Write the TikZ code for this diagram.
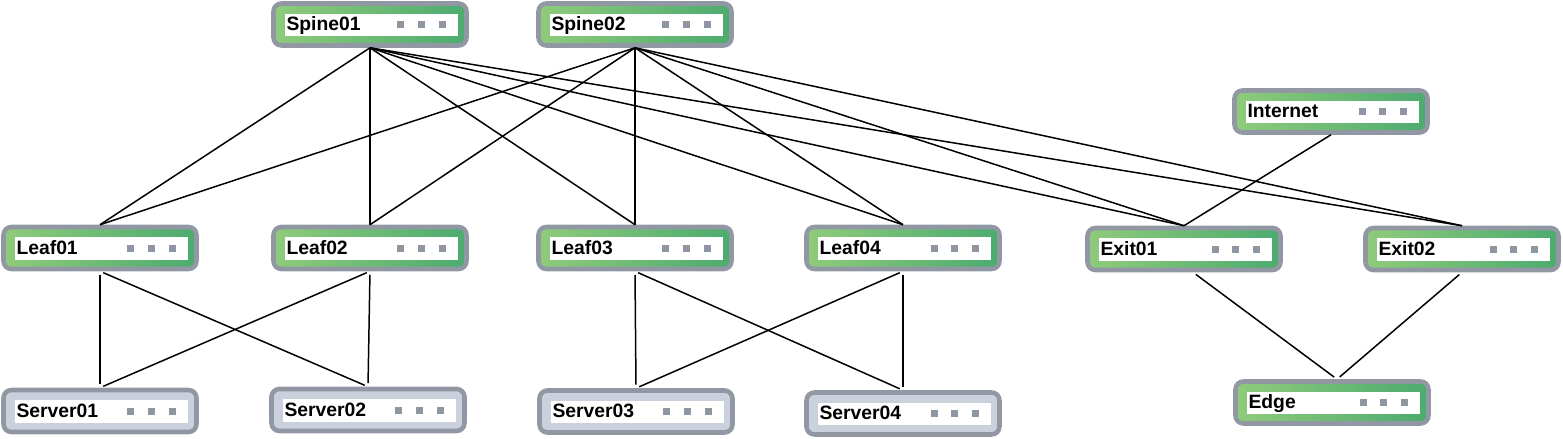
\documentclass[tikz,border=0pt]{standalone}
\usepackage{fontspec}
\setmainfont{Liberation Sans}
\usetikzlibrary{calc}
\definecolor{greenl}{HTML}{8FCB7B}
\definecolor{greenr}{HTML}{4CAB6F}
\definecolor{rimc}{HTML}{9198A3}
\definecolor{srvc}{HTML}{CBD1DC}
\definecolor{dotc}{HTML}{8E96A1}
\tikzset{
  unit/.style={draw=rimc,line width=2.6pt,rounded corners=4.5pt,
    minimum width=3.86cm,minimum height=0.84cm,text width=3.34cm,
    inner xsep=0.26cm,inner ysep=0pt,align=left,text height=0.8em,text depth=0.1em,
    font=\bfseries\fontsize{11}{13}\selectfont,
    path picture={
      \fill[white,sharp corners] ([xshift=0.22cm,yshift=0.18cm]path picture bounding box.south west)
        rectangle ([xshift=-0.16cm,yshift=-0.2cm]path picture bounding box.north east);
      \foreach \dx in {1.31,0.90,0.48}
        \fill[dotc,sharp corners] ([xshift=-\dx cm]path picture bounding box.east) ++(-0.07cm,-0.07cm) rectangle ++(0.14cm,0.14cm);
    }},
  sw/.style={unit,left color=greenl,right color=greenr},
  srv/.style={unit,fill=srvc},
  link/.style={line width=0.85pt,black},
  drop/.style={link,shorten <=2pt,shorten >=2pt}
}
\begin{document}
\begin{tikzpicture}[x=0.02cm,y=-0.02cm]
\useasboundingbox (0,0) rectangle (1563,439);
% switches
\node[sw] (spA) at (370,24.5) {Spine01};
\node[sw] (spB) at (635,24.5) {Spine02};
\node[sw] (inet) at (1331,111.5) {Internet};
\node[sw] (lfA) at (100,248) {Leaf01};
\node[sw] (lfB) at (370,248) {Leaf02};
\node[sw] (lfC) at (635,248) {Leaf03};
\node[sw] (lfD) at (903,248) {Leaf04};
\node[sw] (exA) at (1184,249) {Exit01};
\node[sw] (exB) at (1462,249) {Exit02};
\node[sw] (edge) at (1332,402.5) {Edge};
% hosts
\node[srv] (svA) at (100,411) {Server01};
\node[srv] (svB) at (368,410) {Server02};
\node[srv] (svC) at (636,411.5) {Server03};
\node[srv] (svD) at (903,413.5) {Server04};
% fabric
\foreach \sp in {spA,spB}
  \foreach \dn in {lfA,lfB,lfC,lfD,exA,exB}
    \draw[link] (\sp.south) -- (\dn.north);
\draw[link] (inet.south) -- (exA.north);
\foreach \lf/\sv in {lfA/svA,lfA/svB,lfB/svA,lfB/svB,lfC/svC,lfC/svD,lfD/svC,lfD/svD}
  \draw[drop] (\lf.south) -- (\sv.north);
\draw[drop] ([xshift=0.18cm]exA.south) -- ([xshift=0.1cm]edge.north);
\draw[drop] (exB.south) -- ([xshift=0.1cm]edge.north);
\end{tikzpicture}
\end{document}
